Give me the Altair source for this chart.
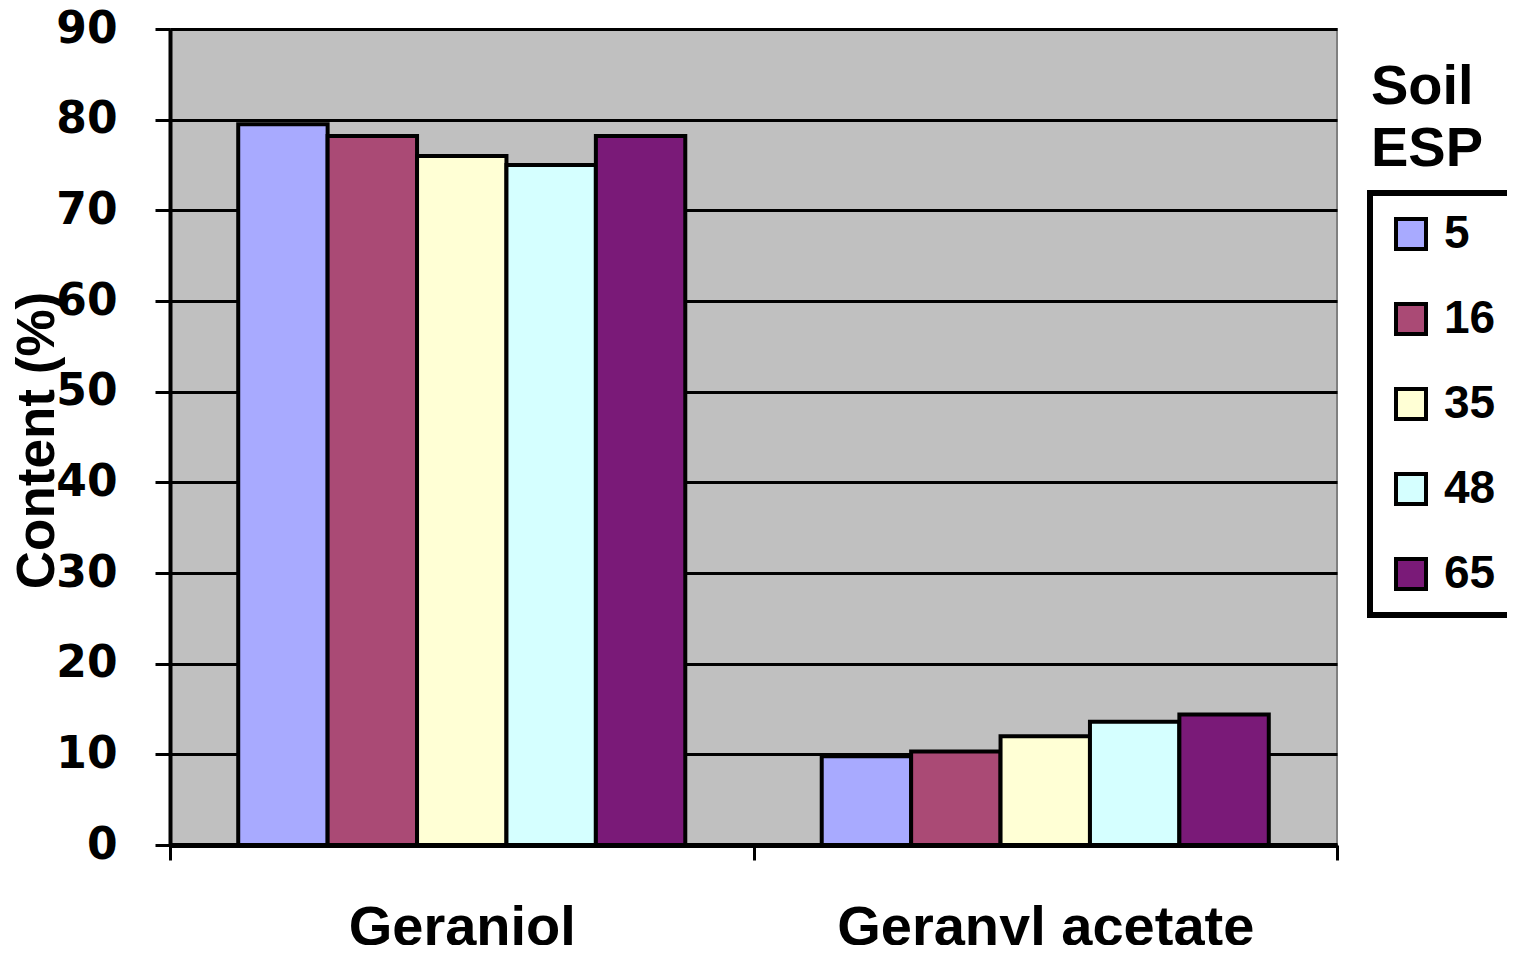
import altair as alt
import pandas as pd

compounds = ["Geraniol", "Geranyl acetate"]
esp_levels = ["5", "16", "35", "48", "65"]
geraniol = [79.5, 78.2, 76.0, 75.0, 78.2]
geranyl_acetate = [9.8, 10.3, 12.0, 13.6, 14.4]
colors = ["#A8AAFF", "#AA4A75", "#FFFFD5", "#D5FFFF", "#7A1A78"]
y_ticks = [0, 10, 20, 30, 40, 50, 60, 70, 80, 90]
legend_title_text = ["Soil\nESP"]

rows = []
for comp, vals in zip(compounds, [geraniol, geranyl_acetate]):
    for esp, v in zip(esp_levels, vals):
        rows.append({"Compound": comp, "ESP": esp, "Content": v})
df = pd.DataFrame(rows)

bars = alt.Chart(df).mark_bar(stroke="black", strokeWidth=4).encode(
    x=alt.X(
        "Compound:N",
        sort=compounds,
        scale=alt.Scale(paddingInner=0, paddingOuter=0),
        axis=alt.Axis(
            title=None, labelAngle=0, tickBand="extent", grid=False, labelLimit=0,
            domainColor="black", domainWidth=5, tickColor="black", tickWidth=3, tickSize=15,
            labelFont="Liberation Sans", labelFontWeight="bold", labelFontSize=56,
            labelColor="black", labelBaseline="alphabetic", labelPadding=84,
        ),
    ),
    xOffset=alt.XOffset("ESP:N", sort=esp_levels,
                        scale=alt.Scale(paddingInner=0, paddingOuter=0.763)),
    y=alt.Y(
        "Content:Q",
        scale=alt.Scale(domain=[0, 90], nice=False),
        axis=alt.Axis(
            values=y_ticks, grid=True, gridColor="black", gridWidth=3,
            domainColor="black", domainWidth=4, tickColor="black", tickWidth=3, tickSize=15,
            labelFont="DejaVu Sans", labelFontWeight="bold", labelFontSize=44,
            labelColor="black", labelPadding=38,
            title="Content (%)", titleFont="Liberation Sans", titleFontWeight="bold",
            titleFontSize=53, titleColor="black", titleAngle=270, titleX=-117, titleY=411,
            titleAlign="center", titleBaseline="alphabetic",
        ),
    ),
    color=alt.Color(
        "ESP:N",
        sort=esp_levels,
        scale=alt.Scale(domain=esp_levels, range=colors),
        legend=alt.Legend(
            title=None, orient="none", legendX=1200, legendY=164, direction="vertical",
            strokeColor="black", symbolType="square", symbolSize=900,
            symbolStrokeColor="black", symbolStrokeWidth=4, symbolOpacity=1,
            labelFont="Liberation Sans", labelFontWeight="bold", labelFontSize=46,
            labelColor="black", labelOffset=10, rowPadding=39, padding=18,
        ),
    ),
)

title_df = pd.DataFrame({"t": legend_title_text})
legend_title = alt.Chart(title_df).mark_text(
    lineBreak="\n", align="left", baseline="alphabetic", font="Liberation Sans",
    fontWeight="bold", fontSize=56, lineHeight=62, color="black",
).encode(text="t:N", x=alt.value(1201), y=alt.value(75))

chart = alt.layer(bars, legend_title).properties(
    width=1167,
    height=816,
    autosize=alt.AutoSizeParams(type="none"),
    padding={"left": 162, "top": 21, "right": 170, "bottom": 100},
).configure_view(
    fill="#C0C0C0", stroke="#808080", strokeWidth=2
).configure_legend(strokeWidth=6)

chart.save("out.html", embed_options={"renderer": "svg", "actions": False})
